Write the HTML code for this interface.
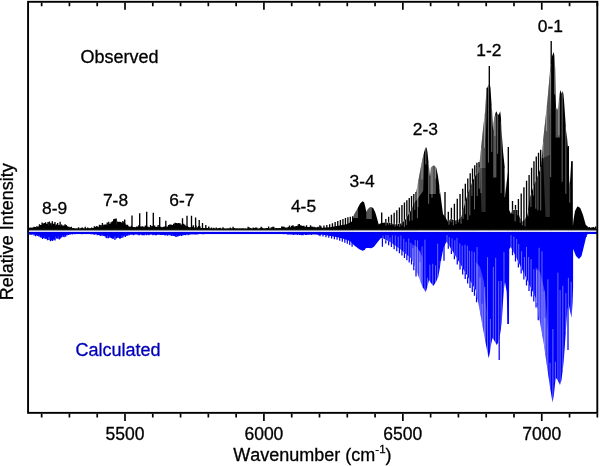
<!DOCTYPE html>
<html><head><meta charset="utf-8"><title>Spectrum</title>
<style>html,body{margin:0;padding:0;background:#fff}svg{display:block}text{font-kerning:none}</style></head>
<body>
<svg width="600" height="466" viewBox="0 0 600 466">
<rect width="600" height="466" fill="#fff"/>
<path d="M28.0 231.80 L28.0 233.20 L33.0 233.80 L40.0 235.30 L46.0 236.50 L51.0 237.40 L55.0 236.80 L60.0 235.90 L66.0 234.70 L70.0 233.50 L75.0 233.08 L85.0 233.08 L95.0 233.38 L100.0 234.10 L105.0 235.00 L110.0 235.90 L114.0 236.50 L118.0 235.90 L122.0 235.60 L126.0 234.70 L130.0 233.80 L140.0 233.68 L150.0 233.80 L160.0 233.80 L168.0 233.98 L172.0 234.58 L176.0 235.00 L180.0 234.58 L186.0 233.80 L195.0 233.38 L210.0 233.02 L250.0 232.90 L280.0 233.02 L290.0 233.44 L300.0 233.92 L310.0 233.56 L318.0 233.68 L323.3 234.81 L336.7 237.10 L343.3 238.80 L350.0 241.09 L354.0 245.30 L359.3 249.30 L362.7 250.70 L364.7 250.00 L366.0 248.00 L368.7 248.00 L371.3 248.30 L374.0 246.70 L376.7 243.30 L379.3 240.00 L381.0 238.00 L382.5 238.00 L390.0 242.00 L400.0 249.00 L407.0 255.00 L411.7 259.00 L415.0 267.00 L418.0 275.00 L420.0 280.00 L422.5 287.00 L425.8 292.00 L427.3 287.00 L429.0 280.00 L431.0 283.00 L433.3 286.00 L436.0 282.00 L438.3 276.70 L440.0 267.00 L441.7 256.70 L443.5 248.00 L445.8 243.00 L446.7 241.70 L450.0 247.00 L455.0 255.00 L460.0 263.50 L465.0 272.00 L470.0 280.50 L475.8 290.00 L478.0 301.00 L480.0 312.00 L482.0 323.00 L484.0 334.00 L486.0 345.00 L488.7 358.30 L490.0 352.00 L491.2 344.00 L492.5 338.00 L494.5 341.00 L496.7 345.00 L498.5 342.00 L500.0 335.00 L501.7 323.00 L503.0 302.00 L503.8 290.00 L505.0 282.00 L506.7 292.00 L507.7 324.00 L508.9 324.00 L509.3 249.00 L510.8 247.00 L513.0 251.00 L517.0 259.00 L521.0 267.00 L525.0 275.50 L530.0 286.00 L535.8 298.00 L538.0 310.00 L541.0 328.00 L544.0 345.00 L547.5 370.00 L550.0 387.00 L552.5 402.50 L553.8 396.00 L555.0 384.00 L556.0 378.00 L557.5 380.00 L560.0 385.00 L561.5 380.00 L563.7 361.70 L564.8 346.60 L566.0 328.60 L567.4 309.00 L568.7 304.00 L570.2 312.00 L571.6 317.70 L572.6 302.00 L573.1 287.00 L573.1 249.00 L574.0 251.00 L576.0 256.00 L579.0 259.00 L581.5 256.00 L584.0 246.00 L586.7 234.50 L590.0 233.60 L596.0 233.60 L596.0 231.80 Z" fill="#0000ff"/>
<path d="M382.40 231.80V246.70 M444.00 231.80V260.80 M499.20 231.80V360.00 M508.00 231.80V324.00 M568.00 231.80V350.00 M320.00 231.80V236.24 M323.00 231.80V236.56 M325.94 231.80V237.21 M328.81 231.80V237.87 M331.62 231.80V238.52 M334.38 231.80V239.16 M337.07 231.80V239.83 M339.71 231.80V240.75 M342.29 231.80V241.65 M344.82 231.80V242.70 M347.29 231.80V243.85 M349.71 231.80V244.97 M352.08 231.80V246.66 M385.80 231.80V243.54 M388.65 231.80V245.21 M391.44 231.80V247.10 M394.16 231.80V249.20 M396.82 231.80V251.25 M399.41 231.80V253.25 M401.95 231.80V255.54 M404.44 231.80V257.88 M406.86 231.80V260.17 M409.23 231.80V262.39 M411.55 231.80V264.56 M413.81 231.80V270.33 M416.02 231.80V276.49 M448.30 231.80V248.75 M451.40 231.80V254.12 M454.38 231.80V259.27 M457.25 231.80V264.47 M460.01 231.80V269.53 M462.66 231.80V274.40 M465.21 231.80V279.08 M467.66 231.80V283.58 M470.02 231.80V287.91 M472.28 231.80V291.92 M474.46 231.80V295.78 M476.56 231.80V302.25 M512.50 231.80V255.18 M515.50 231.80V261.44 M518.40 231.80V267.58 M521.19 231.80V273.53 M523.89 231.80V279.62 M526.50 231.80V285.45 M529.02 231.80V291.05 M531.44 231.80V296.41 M533.79 231.80V301.55 M536.05 231.80V307.43 M538.24 231.80V320.21 M29.50 231.80V234.49 M30.62 231.80V234.63 M31.69 231.80V234.79 M32.77 231.80V234.47 M34.15 231.80V235.50 M35.55 231.80V236.29 M36.64 231.80V235.59 M37.81 231.80V236.01 M38.86 231.80V236.62 M40.26 231.80V237.25 M41.28 231.80V237.69 M42.62 231.80V239.08 M43.74 231.80V237.90 M45.14 231.80V239.12 M46.41 231.80V238.79 M47.42 231.80V240.14 M48.87 231.80V240.06 M50.34 231.80V241.37 M51.54 231.80V240.52 M52.64 231.80V240.93 M53.91 231.80V239.74 M55.14 231.80V240.42 M56.62 231.80V238.46 M57.88 231.80V238.85 M59.29 231.80V239.43 M60.31 231.80V238.39 M61.55 231.80V237.50 M63.01 231.80V236.77 M64.19 231.80V237.14 M65.67 231.80V236.64 M67.13 231.80V235.48 M68.55 231.80V234.97 M70.02 231.80V234.80 M71.22 231.80V234.10 M72.34 231.80V234.40 M73.46 231.80V233.76 M74.72 231.80V234.13 M76.04 231.80V233.88 M77.18 231.80V233.98 M78.31 231.80V233.78 M79.58 231.80V233.54 M81.06 231.80V233.79 M82.15 231.80V234.18 M83.48 231.80V233.53 M84.86 231.80V233.59 M86.27 231.80V233.99 M87.75 231.80V233.98 M88.80 231.80V234.12 M89.94 231.80V233.76 M91.00 231.80V234.18 M92.04 231.80V234.13 M93.54 231.80V234.51 M94.72 231.80V234.63 M96.07 231.80V234.29 M97.24 231.80V235.14 M98.53 231.80V235.12 M99.75 231.80V235.55 M100.85 231.80V235.95 M102.27 231.80V235.86 M103.69 231.80V236.00 M104.79 231.80V236.32 M106.00 231.80V237.66 M107.01 231.80V238.18 M108.50 231.80V238.24 M109.88 231.80V237.51 M111.11 231.80V237.90 M112.27 231.80V238.84 M113.43 231.80V238.86 M114.92 231.80V240.12 M116.33 231.80V238.42 M117.47 231.80V237.70 M118.83 231.80V237.96 M119.98 231.80V238.95 M121.21 231.80V238.11 M122.71 231.80V237.63 M124.02 231.80V236.43 M125.44 231.80V236.88 M126.87 231.80V236.11 M128.05 231.80V235.39 M129.49 231.80V235.22 M130.85 231.80V234.80 M132.10 231.80V234.83 M133.43 231.80V235.29 M134.50 231.80V234.63 M135.81 231.80V234.45 M136.97 231.80V234.54 M138.24 231.80V235.21 M139.61 231.80V235.20 M141.06 231.80V234.84 M142.12 231.80V235.14 M143.36 231.80V235.15 M144.46 231.80V235.20 M145.50 231.80V234.46 M146.50 231.80V235.13 M147.64 231.80V234.86 M148.86 231.80V235.14 M150.07 231.80V234.78 M151.42 231.80V234.61 M152.80 231.80V235.31 M153.80 231.80V234.96 M155.25 231.80V235.24 M156.46 231.80V235.19 M157.56 231.80V234.78 M158.88 231.80V234.70 M160.14 231.80V234.95 M161.26 231.80V235.12 M162.53 231.80V235.03 M163.86 231.80V235.07 M165.01 231.80V235.45 M166.27 231.80V235.30 M167.66 231.80V235.78 M169.03 231.80V235.08 M170.24 231.80V235.51 M171.68 231.80V235.90 M173.15 231.80V236.04 M174.34 231.80V236.12 M175.36 231.80V236.76 M176.79 231.80V237.12 M177.99 231.80V236.32 M179.12 231.80V236.12 M180.29 231.80V235.60 M181.51 231.80V235.93 M182.86 231.80V235.38 M184.16 231.80V235.12 M185.36 231.80V235.20 M186.67 231.80V234.77 M188.07 231.80V235.15 M189.35 231.80V234.68 M190.70 231.80V234.53 M192.19 231.80V234.57 M193.43 231.80V234.28 M194.60 231.80V234.55 M195.66 231.80V234.43 M196.89 231.80V234.40 M198.12 231.80V234.24 M199.53 231.80V233.85 M200.91 231.80V234.08 M202.36 231.80V234.30 M203.85 231.80V234.27 M205.00 231.80V233.73 M206.36 231.80V233.81 M207.65 231.80V233.78 M208.93 231.80V233.63 M210.21 231.80V233.74 M211.29 231.80V233.61 M212.50 231.80V233.67 M213.52 231.80V233.65 M214.78 231.80V233.46 M216.04 231.80V234.06 M217.30 231.80V233.55 M218.44 231.80V233.76 M219.50 231.80V233.93 M220.72 231.80V233.74 M221.81 231.80V233.75 M222.91 231.80V233.71 M224.30 231.80V233.93 M225.35 231.80V233.87 M226.47 231.80V233.81 M227.63 231.80V233.71 M228.96 231.80V233.57 M230.15 231.80V233.92 M231.40 231.80V233.73 M232.80 231.80V233.55 M234.10 231.80V233.46 M235.18 231.80V233.63 M236.56 231.80V233.78 M237.98 231.80V233.70 M239.01 231.80V233.73 M240.47 231.80V233.38 M241.96 231.80V233.72 M243.33 231.80V233.46 M244.66 231.80V233.55 M245.73 231.80V233.77 M246.80 231.80V233.24 M248.19 231.80V233.52 M249.69 231.80V233.56 M251.04 231.80V233.29 M252.39 231.80V233.30 M253.65 231.80V233.66 M254.70 231.80V233.71 M256.10 231.80V233.64 M257.26 231.80V233.48 M258.66 231.80V233.48 M259.87 231.80V233.39 M261.16 231.80V233.70 M262.30 231.80V233.29 M263.47 231.80V233.54 M264.61 231.80V233.82 M265.94 231.80V233.80 M267.15 231.80V233.46 M268.55 231.80V233.57 M270.01 231.80V233.78 M271.23 231.80V233.68 M272.31 231.80V233.80 M273.37 231.80V233.72 M274.50 231.80V233.92 M275.50 231.80V233.57 M276.86 231.80V234.05 M277.88 231.80V233.78 M279.12 231.80V233.60 M280.19 231.80V233.72 M281.67 231.80V233.77 M282.76 231.80V233.79 M284.03 231.80V234.20 M285.34 231.80V233.91 M286.60 231.80V234.36 M287.63 231.80V234.52 M288.85 231.80V234.52 M290.04 231.80V234.44 M291.05 231.80V234.44 M292.18 231.80V234.50 M293.36 231.80V234.88 M294.84 231.80V234.69 M296.01 231.80V234.43 M297.30 231.80V235.01 M298.39 231.80V234.60 M299.64 231.80V235.05 M300.93 231.80V234.97 M301.95 231.80V235.37 M303.13 231.80V235.15 M304.24 231.80V234.62 M305.54 231.80V235.06 M306.59 231.80V235.03 M307.78 231.80V234.73 M308.88 231.80V234.64 M310.24 231.80V234.86 M311.68 231.80V234.96 M313.17 231.80V234.49 M314.62 231.80V234.45 M316.10 231.80V234.70 M317.55 231.80V234.64 M318.66 231.80V235.13 M319.82 231.80V235.05 M320.94 231.80V234.76 M586.10 231.80V236.91 M587.24 231.80V234.21 M588.36 231.80V234.05 M589.48 231.80V233.96 M590.63 231.80V233.55 M591.91 231.80V233.62 M593.06 231.80V233.96 M594.44 231.80V233.69 M595.56 231.80V233.42" stroke="#0000ff" stroke-width="1.25" fill="none"/>
<path d="M383.00 235.49V239.27 M385.91 235.14V240.82 M388.03 235.06V241.95 M390.09 237.60V243.06 M392.35 235.26V244.65 M395.30 235.29V246.71 M398.22 236.57V248.75 M400.89 235.52V250.76 M403.78 238.67V253.24 M406.13 241.89V255.25 M408.72 238.43V257.47 M410.85 242.74V259.27 M412.87 248.18V262.84 M415.21 240.05V268.57 M417.54 240.41V274.78 M419.86 250.79V280.65 M447.00 235.06V243.18 M449.29 237.11V246.86 M452.07 238.35V251.31 M454.84 240.35V255.74 M456.96 237.97V259.33 M459.81 243.40V264.17 M462.19 245.46V268.22 M465.03 244.77V273.06 M467.40 245.87V277.07 M469.41 250.77V280.49 M471.89 251.25V284.59 M474.34 252.16V288.60 M477.05 247.02V297.26 M511.00 235.10V248.36 M513.87 236.74V253.73 M516.66 239.03V259.32 M518.74 243.99V263.48 M521.58 251.22V269.23 M524.46 257.02V275.34 M526.51 246.96V279.67 M528.62 257.03V284.09 M531.07 259.25V289.21 M533.86 269.17V294.99 M536.54 270.09V303.04 M539.09 247.75V317.53 M541.98 251.39V334.55 M544.07 291.42V346.47 M420.00 262.24V281.00 M422.11 246.48V286.91 M424.93 239.64V291.69 M427.55 277.89V286.99 M429.85 264.71V282.27 M432.70 263.72V286.22 M435.58 265.34V283.62 M437.67 243.70V279.14 M440.31 261.00V266.11 M480.00 277.56V313.00 M482.21 303.66V325.17 M484.76 286.95V339.16 M487.53 257.22V353.55 M490.37 318.96V350.53 M493.34 266.88V340.27 M495.67 257.78V344.12 M498.68 281.16V342.14 M501.17 280.93V327.75 M503.98 252.14V289.83 M545.00 317.66V353.14 M547.89 279.36V373.64 M550.04 362.81V388.28 M552.88 329.00V401.58 M555.38 361.79V382.70 M557.91 272.66V381.82 M560.10 290.15V385.68 M562.80 285.72V370.18 M565.87 293.12V331.61 M568.42 277.90V306.07 M571.13 281.77V316.78" stroke="#ffffff" stroke-opacity="0.4" stroke-width="1" fill="none"/>
<polygon points="411.7,259.0 415.0,267.0 418.0,275.0 420.0,280.0 422.5,287.0 422.5,257.0 417.0,247.0 411.7,244.0" fill="#fff" fill-opacity="0.25"/>
<polygon points="475.8,290.0 478.0,301.0 480.0,312.0 482.0,323.0 484.0,334.0 486.0,345.0 486.5,312.0 484.0,282.0 480.0,267.0 475.8,262.0" fill="#fff" fill-opacity="0.25"/>
<polygon points="535.8,298.0 538.0,310.0 541.0,328.0 544.0,345.0 547.5,370.0 548.0,332.0 545.0,292.0 540.0,272.0 535.8,267.0" fill="#fff" fill-opacity="0.25"/>
<rect x="28" y="231.75" width="569" height="2.3" fill="#0000f0"/>
<path d="M28.0 230.50 L28.0 228.34 L33.0 228.01 L40.0 227.07 L46.0 225.97 L51.0 225.15 L55.0 225.70 L60.0 226.25 L66.0 227.07 L70.0 228.18 L75.0 228.72 L85.0 228.72 L95.0 228.28 L100.0 227.35 L105.0 226.53 L108.0 225.70 L112.0 224.60 L114.0 224.05 L116.0 224.60 L118.0 225.43 L121.7 224.88 L124.0 225.70 L127.5 227.07 L131.0 227.79 L140.0 227.79 L150.0 227.79 L160.0 227.79 L166.0 227.79 L168.0 227.24 L172.0 226.36 L176.0 225.87 L180.0 226.36 L184.0 227.07 L190.0 227.90 L200.0 228.23 L208.0 228.56 L212.0 228.78 L250.0 228.78 L270.0 228.72 L280.0 228.45 L290.0 227.90 L296.0 227.46 L300.0 227.13 L305.0 227.46 L310.0 227.84 L318.0 228.18 L325.0 227.50 L330.0 227.20 L338.0 225.80 L346.7 224.20 L351.7 221.70 L352.8 218.30 L354.2 214.20 L356.7 210.00 L360.0 203.70 L361.7 202.00 L362.8 201.30 L364.2 202.50 L365.3 206.70 L366.3 212.00 L367.5 209.70 L369.2 207.70 L371.3 207.00 L373.3 208.30 L375.3 212.50 L377.0 218.30 L378.7 224.50 L380.0 223.50 L382.0 223.00 L385.0 222.50 L390.0 223.00 L396.0 224.50 L401.0 223.50 L405.0 220.30 L407.0 217.00 L410.4 211.50 L413.0 206.00 L415.0 201.00 L416.2 192.50 L419.3 175.50 L421.6 163.20 L424.0 152.40 L425.2 148.50 L426.0 147.00 L426.8 148.50 L427.5 152.40 L428.6 163.20 L429.4 171.00 L430.0 177.00 L430.9 167.80 L432.5 166.00 L434.3 165.50 L436.3 167.80 L437.9 175.50 L439.4 186.40 L441.4 201.80 L443.0 214.00 L445.5 217.50 L448.0 222.00 L450.5 219.00 L453.5 220.00 L456.0 220.50 L459.0 219.50 L461.5 216.50 L464.0 207.00 L467.0 196.00 L470.0 188.00 L473.0 180.00 L476.0 175.00 L479.0 172.00 L479.7 162.00 L481.0 149.00 L482.2 137.00 L483.5 125.00 L485.2 111.00 L485.9 99.00 L486.5 88.00 L487.5 87.50 L488.5 84.00 L489.6 83.00 L490.5 88.00 L491.3 101.00 L492.1 111.00 L492.8 125.00 L493.2 131.00 L493.6 123.00 L494.5 117.00 L495.5 113.00 L496.4 111.20 L497.3 113.50 L498.3 115.00 L499.3 113.50 L500.2 111.20 L500.9 117.00 L501.5 130.00 L503.2 153.00 L504.7 167.00 L505.1 185.00 L505.4 195.00 L506.6 182.50 L508.0 172.00 L508.9 172.00 L509.2 210.00 L511.0 214.00 L512.5 210.00 L518.0 210.00 L519.5 217.00 L522.5 221.50 L525.0 219.00 L527.6 214.00 L530.0 197.00 L534.0 185.00 L538.0 175.00 L541.0 167.00 L542.5 148.00 L544.0 132.00 L546.0 114.00 L547.5 100.00 L549.0 83.00 L550.5 66.00 L551.5 58.00 L552.5 55.00 L553.7 52.00 L554.6 57.00 L555.2 69.00 L555.6 94.00 L556.0 107.00 L557.0 110.00 L558.0 108.00 L558.8 101.00 L559.6 94.00 L560.4 90.00 L561.5 93.50 L562.7 91.00 L563.4 94.00 L564.0 100.00 L565.3 119.00 L566.0 130.00 L567.2 139.00 L568.5 156.00 L569.2 181.00 L569.8 186.00 L571.2 162.00 L572.3 162.00 L572.6 225.00 L572.9 226.00 L573.5 220.00 L575.0 211.00 L577.3 206.40 L579.0 207.00 L580.5 208.50 L583.0 215.00 L585.5 224.00 L587.0 227.50 L590.0 227.80 L596.0 227.80 L596.0 230.50 Z" fill="#000"/>
<path d="M124.70 230.50V219.50 M132.00 230.50V215.50 M139.70 230.50V213.30 M146.70 230.50V211.70 M153.30 230.50V212.80 M159.70 230.50V217.00 M165.80 230.50V220.80 M182.50 230.50V218.30 M187.00 230.50V215.80 M191.50 230.50V215.80 M195.60 230.50V217.50 M199.20 230.50V220.00 M202.50 230.50V223.00 M205.80 230.50V225.00 M208.70 230.50V226.50 M381.70 230.50V212.50 M445.00 230.50V192.00 M508.30 230.50V147.00 M568.30 230.50V146.00 M572.00 230.50V161.00 M489.30 230.50V66.00 M551.20 230.50V41.00 M318.00 230.50V226.80 M321.00 230.50V226.15 M323.94 230.50V225.51 M326.82 230.50V224.89 M329.64 230.50V224.28 M332.41 230.50V223.21 M335.12 230.50V222.10 M337.78 230.50V221.01 M340.39 230.50V219.98 M342.94 230.50V218.98 M345.44 230.50V218.00 M347.89 230.50V217.26 M350.29 230.50V216.78 M352.65 230.50V216.14 M385.80 230.50V219.00 M388.65 230.50V216.83 M391.44 230.50V214.71 M394.16 230.50V212.64 M396.82 230.50V210.18 M399.41 230.50V207.59 M401.95 230.50V205.05 M404.44 230.50V202.56 M406.86 230.50V200.29 M409.23 230.50V198.11 M411.55 230.50V195.98 M413.81 230.50V193.90 M416.02 230.50V191.93 M448.30 230.50V211.70 M451.40 230.50V207.63 M454.39 230.50V203.71 M457.27 230.50V198.87 M460.05 230.50V194.08 M462.73 230.50V188.84 M465.31 230.50V183.68 M467.80 230.50V178.42 M470.20 230.50V173.28 M472.52 230.50V168.53 M474.75 230.50V165.27 M476.90 230.50V162.78 M478.98 230.50V162.01 M512.50 230.50V200.90 M515.50 230.50V205.00 M518.40 230.50V199.10 M521.21 230.50V193.51 M523.93 230.50V187.17 M526.56 230.50V180.71 M529.11 230.50V174.97 M531.58 230.50V167.63 M533.96 230.50V161.16 M536.27 230.50V156.49 M538.51 230.50V152.68 M540.67 230.50V149.85 M29.50 230.50V227.82 M30.68 230.50V227.44 M31.72 230.50V227.76 M32.85 230.50V227.48 M34.08 230.50V226.68 M35.40 230.50V227.05 M36.84 230.50V226.31 M38.17 230.50V226.62 M39.47 230.50V224.23 M40.70 230.50V224.99 M42.06 230.50V222.44 M43.28 230.50V223.62 M44.33 230.50V223.04 M45.55 230.50V222.27 M46.74 230.50V223.80 M48.03 230.50V221.93 M49.50 230.50V221.56 M50.84 230.50V223.28 M52.32 230.50V221.28 M53.67 230.50V223.65 M54.96 230.50V221.96 M56.46 230.50V224.49 M57.66 230.50V222.90 M59.10 230.50V225.01 M60.12 230.50V221.86 M61.61 230.50V224.51 M62.77 230.50V225.62 M63.78 230.50V225.60 M65.09 230.50V224.15 M66.24 230.50V225.01 M67.43 230.50V226.34 M68.75 230.50V226.84 M70.06 230.50V227.26 M71.28 230.50V226.78 M72.77 230.50V228.07 M73.77 230.50V228.30 M74.78 230.50V228.44 M75.81 230.50V228.48 M77.15 230.50V228.55 M78.52 230.50V227.14 M80.00 230.50V228.57 M81.30 230.50V227.65 M82.49 230.50V227.49 M83.87 230.50V228.62 M85.24 230.50V226.85 M86.36 230.50V228.49 M87.71 230.50V227.50 M89.12 230.50V228.21 M90.21 230.50V228.17 M91.65 230.50V227.42 M92.92 230.50V228.05 M94.34 230.50V226.27 M95.66 230.50V226.70 M96.80 230.50V225.93 M98.01 230.50V226.82 M99.47 230.50V224.78 M100.91 230.50V225.09 M102.39 230.50V223.07 M103.80 230.50V224.66 M104.95 230.50V224.44 M106.24 230.50V224.50 M107.27 230.50V222.48 M108.73 230.50V221.66 M110.02 230.50V223.70 M111.10 230.50V222.32 M112.36 230.50V221.34 M113.67 230.50V219.24 M114.91 230.50V218.87 M116.18 230.50V218.54 M117.64 230.50V221.46 M118.64 230.50V222.11 M119.67 230.50V221.69 M120.88 230.50V221.99 M121.88 230.50V222.68 M122.91 230.50V221.03 M123.96 230.50V222.21 M125.13 230.50V223.59 M126.31 230.50V224.77 M127.59 230.50V224.76 M128.68 230.50V226.19 M130.07 230.50V226.66 M131.38 230.50V225.73 M132.73 230.50V226.93 M133.96 230.50V227.11 M135.31 230.50V227.28 M136.52 230.50V226.48 M137.71 230.50V226.46 M138.84 230.50V225.19 M140.17 230.50V226.47 M141.51 230.50V226.62 M142.56 230.50V226.14 M143.95 230.50V226.75 M145.39 230.50V225.43 M146.45 230.50V226.51 M147.87 230.50V226.41 M149.26 230.50V227.31 M150.52 230.50V225.04 M151.99 230.50V225.99 M153.40 230.50V226.31 M154.71 230.50V225.62 M155.91 230.50V227.00 M156.95 230.50V226.85 M158.16 230.50V225.10 M159.53 230.50V226.68 M160.78 230.50V226.71 M161.85 230.50V227.26 M163.31 230.50V226.84 M164.67 230.50V226.45 M165.96 230.50V225.53 M167.44 230.50V226.42 M168.64 230.50V225.08 M169.78 230.50V224.52 M170.97 230.50V224.45 M172.36 230.50V225.02 M173.60 230.50V223.74 M175.01 230.50V222.87 M176.25 230.50V222.94 M177.45 230.50V223.20 M178.69 230.50V223.10 M180.03 230.50V223.34 M181.15 230.50V224.60 M182.50 230.50V224.47 M183.63 230.50V223.80 M184.99 230.50V224.70 M186.14 230.50V226.30 M187.47 230.50V225.92 M188.72 230.50V227.04 M190.20 230.50V227.16 M191.25 230.50V227.32 M192.31 230.50V226.86 M193.36 230.50V225.25 M194.74 230.50V227.49 M196.07 230.50V225.57 M197.55 230.50V227.37 M198.60 230.50V226.01 M199.94 230.50V226.16 M201.26 230.50V227.92 M202.59 230.50V228.03 M203.66 230.50V227.99 M204.95 230.50V227.97 M206.18 230.50V227.66 M207.54 230.50V228.09 M208.91 230.50V227.34 M210.35 230.50V228.57 M211.47 230.50V227.57 M212.67 230.50V228.60 M213.85 230.50V227.71 M214.90 230.50V228.68 M216.26 230.50V227.60 M217.63 230.50V228.55 M218.93 230.50V227.96 M220.19 230.50V227.80 M221.58 230.50V228.69 M223.03 230.50V227.24 M224.32 230.50V228.59 M225.67 230.50V228.65 M226.91 230.50V228.59 M227.91 230.50V228.56 M229.15 230.50V228.61 M230.25 230.50V227.40 M231.57 230.50V228.62 M233.05 230.50V226.87 M234.37 230.50V227.92 M235.40 230.50V228.60 M236.57 230.50V228.54 M237.63 230.50V228.55 M239.10 230.50V228.57 M240.27 230.50V228.55 M241.70 230.50V228.62 M242.94 230.50V228.16 M244.04 230.50V228.67 M245.39 230.50V228.60 M246.72 230.50V228.65 M248.09 230.50V226.79 M249.45 230.50V227.39 M250.75 230.50V227.92 M252.14 230.50V228.67 M253.24 230.50V227.60 M254.33 230.50V228.01 M255.57 230.50V227.55 M256.77 230.50V227.49 M257.97 230.50V228.66 M259.08 230.50V228.65 M260.16 230.50V227.94 M261.19 230.50V226.85 M262.42 230.50V227.66 M263.56 230.50V228.48 M264.73 230.50V228.62 M266.21 230.50V228.06 M267.26 230.50V228.11 M268.59 230.50V226.47 M269.82 230.50V228.45 M271.29 230.50V227.20 M272.77 230.50V226.74 M273.82 230.50V226.87 M275.29 230.50V228.37 M276.66 230.50V228.06 M278.12 230.50V228.17 M279.23 230.50V227.94 M280.37 230.50V228.14 M281.67 230.50V226.57 M282.75 230.50V226.49 M284.13 230.50V226.73 M285.55 230.50V227.38 M286.98 230.50V227.38 M288.35 230.50V226.83 M289.55 230.50V225.38 M290.61 230.50V227.36 M291.73 230.50V225.85 M293.02 230.50V225.24 M294.13 230.50V226.44 M295.52 230.50V226.20 M296.79 230.50V226.04 M298.20 230.50V224.55 M299.30 230.50V224.06 M300.41 230.50V225.24 M301.73 230.50V225.51 M302.90 230.50V225.88 M303.96 230.50V225.71 M305.37 230.50V226.68 M306.60 230.50V225.27 M307.84 230.50V227.12 M309.21 230.50V226.92 M310.51 230.50V225.26 M311.68 230.50V226.39 M312.76 230.50V226.79 M314.20 230.50V226.87 M315.67 230.50V227.34 M317.14 230.50V227.19 M318.38 230.50V227.35 M319.88 230.50V225.36 M320.97 230.50V227.81 M586.12 230.50V225.50 M587.14 230.50V226.30 M588.31 230.50V227.52 M589.46 230.50V226.94 M590.49 230.50V228.02 M591.85 230.50V227.57 M593.28 230.50V227.00 M594.51 230.50V227.82 M595.69 230.50V226.50" stroke="#000" stroke-width="1.35" fill="none"/>
<path d="M386.00 225.56V221.60 M388.49 224.65V221.85 M390.68 225.02V222.17 M392.98 225.23V222.75 M395.05 226.55V223.26 M397.50 225.92V223.20 M399.70 226.93V222.76 M401.83 225.55V221.83 M404.41 226.94V219.77 M406.59 224.93V216.68 M409.54 220.94V211.88 M412.11 220.36V206.88 M414.77 209.88V200.58 M417.44 218.14V184.70 M449.00 224.75V219.80 M451.04 222.28V218.18 M453.36 225.28V218.95 M455.99 224.14V219.50 M458.49 222.26V218.67 M461.00 223.78V216.10 M463.07 218.77V209.54 M465.43 214.15V200.75 M467.78 220.10V192.92 M469.82 215.35V187.49 M471.91 195.89V181.90 M474.49 209.37V176.51 M477.20 195.94V172.80 M479.26 188.69V167.22 M513.00 213.83V209.00 M515.14 221.26V209.00 M517.39 215.24V209.00 M520.21 222.78V217.06 M522.36 225.25V220.29 M525.06 226.15V217.88 M527.98 216.38V210.30 M530.91 206.97V193.26 M533.53 195.51V185.41 M535.80 208.73V179.51 M537.92 210.21V174.20 M540.72 210.48V166.75 M418.00 206.86V181.63 M422.03 179.44V160.27 M425.79 164.41V146.39 M428.65 203.80V162.69 M431.97 197.77V165.60 M435.70 178.54V166.11 M439.54 193.70V186.48 M481.00 193.04V148.00 M484.51 147.68V115.67 M488.45 162.53V83.17 M491.75 151.88V105.62 M494.87 136.17V114.52 M497.67 153.81V113.05 M501.15 193.13V121.40 M504.75 197.15V168.13 M543.00 158.27V141.67 M546.62 131.16V107.20 M550.66 177.15V63.73 M554.62 94.53V56.33 M558.80 135.31V99.97 M562.15 181.86V91.14 M565.87 193.87V126.91 M569.73 202.75V184.39" stroke="#ffffff" stroke-opacity="0.4" stroke-width="1" fill="none"/>
<polygon points="480.0,168.0 485.6,168.0 485.6,212.0 481.5,212.0" fill="#fff" fill-opacity="0.17"/>
<polygon points="543.0,158.0 549.8,155.0 549.8,217.0 545.5,217.0" fill="#fff" fill-opacity="0.17"/>
<polygon points="352.9,218.0 354.2,214.0 356.7,210.0 358.0,207.0 358.0,218.0" fill="#fff" fill-opacity="0.33"/>
<polygon points="366.3,212.0 367.5,209.7 369.2,207.7 371.3,207.0 371.8,207.3 371.8,219.0 366.3,219.0" fill="#fff" fill-opacity="0.33"/>
<polygon points="415.0,199.0 416.2,192.5 419.3,175.5 421.6,163.2 424.0,152.4 424.0,165.0 423.2,191.0 415.5,201.8" fill="#fff" fill-opacity="0.33"/>
<polygon points="429.4,171.0 430.9,167.8 432.5,166.0 434.3,165.5 435.9,167.0 435.9,194.0 429.4,194.0" fill="#fff" fill-opacity="0.33"/>
<polygon points="479.7,162.0 481.0,149.0 482.2,137.0 483.5,125.0 485.2,111.0 485.9,99.0 486.5,88.0 487.0,92.0 486.5,120.0 485.6,140.0 485.6,168.0 480.0,168.0" fill="#fff" fill-opacity="0.33"/>
<polygon points="493.2,124.0 494.5,119.0 496.4,113.0 496.4,177.6 493.2,177.6" fill="#fff" fill-opacity="0.33"/>
<polygon points="542.5,150.0 544.0,132.0 546.0,114.0 547.5,100.0 549.0,83.0 550.3,70.0 551.0,75.0 550.5,100.0 549.8,120.0 549.8,155.0 543.0,158.0" fill="#fff" fill-opacity="0.33"/>
<polygon points="555.6,108.0 558.5,100.0 560.0,91.0 560.0,137.5 555.6,137.5" fill="#fff" fill-opacity="0.33"/>
<rect x="28" y="228.75" width="569" height="1.75" fill="#111"/>
<rect x="29" y="230.5" width="567.4" height="1.25" fill="#fff"/>
<rect x="28.07" y="1.8" width="569.23" height="411.05" fill="none" stroke="#000" stroke-width="1.9"/>
<path d="M41.65 2.6V6.3 M41.65 413.7V417.4 M69.43 2.6V6.3 M69.43 413.7V417.4 M97.22 2.6V6.3 M97.22 413.7V417.4 M125.00 2.6V9.8 M125.00 413.7V420.9 M152.78 2.6V6.3 M152.78 413.7V417.4 M180.57 2.6V6.3 M180.57 413.7V417.4 M208.35 2.6V6.3 M208.35 413.7V417.4 M236.14 2.6V6.3 M236.14 413.7V417.4 M263.92 2.6V9.8 M263.92 413.7V420.9 M291.71 2.6V6.3 M291.71 413.7V417.4 M319.50 2.6V6.3 M319.50 413.7V417.4 M347.28 2.6V6.3 M347.28 413.7V417.4 M375.06 2.6V6.3 M375.06 413.7V417.4 M402.85 2.6V9.8 M402.85 413.7V420.9 M430.63 2.6V6.3 M430.63 413.7V417.4 M458.42 2.6V6.3 M458.42 413.7V417.4 M486.20 2.6V6.3 M486.20 413.7V417.4 M513.99 2.6V6.3 M513.99 413.7V417.4 M541.77 2.6V9.8 M541.77 413.7V420.9 M569.56 2.6V6.3 M569.56 413.7V417.4 M597.35 2.6V6.3 M597.35 413.7V417.4" stroke="#000" stroke-width="1.7" fill="none"/>
<g font-family="Liberation Sans, Arial, sans-serif" stroke="#000" stroke-width="0.3">
<text x="125.0" y="440.0" font-size="17.5" text-anchor="middle">5500</text>
<text x="263.9" y="440.0" font-size="17.5" text-anchor="middle">6000</text>
<text x="402.8" y="440.0" font-size="17.5" text-anchor="middle">6500</text>
<text x="541.8" y="440.0" font-size="17.5" text-anchor="middle">7000</text>
<text x="233.3" y="461" font-size="18">Wavenumber (cm<tspan font-size="11.5" dy="-8">-1</tspan><tspan dy="8">)</tspan></text>
<text transform="translate(13,300.3) rotate(-90)" font-size="18">Relative Intensity</text>
<text x="80.6" y="63.2" font-size="18">Observed</text>
<text x="75.5" y="356.1" font-size="18" fill="#0000b8" stroke="#0000b8">Calculated</text>
<text x="54.6" y="213.6" font-size="17.4" text-anchor="middle">8-9</text>
<text x="115.5" y="205.6" font-size="17.4" text-anchor="middle">7-8</text>
<text x="181.9" y="205.6" font-size="17.4" text-anchor="middle">6-7</text>
<text x="303.5" y="212.3" font-size="17.4" text-anchor="middle">4-5</text>
<text x="362.1" y="187.3" font-size="17.4" text-anchor="middle">3-4</text>
<text x="425.3" y="135.4" font-size="17.4" text-anchor="middle">2-3</text>
<text x="488.8" y="55.9" font-size="17.4" text-anchor="middle">1-2</text>
<text x="550.3" y="31.5" font-size="17.4" text-anchor="middle">0-1</text>
</g>
</svg>
</body></html>
